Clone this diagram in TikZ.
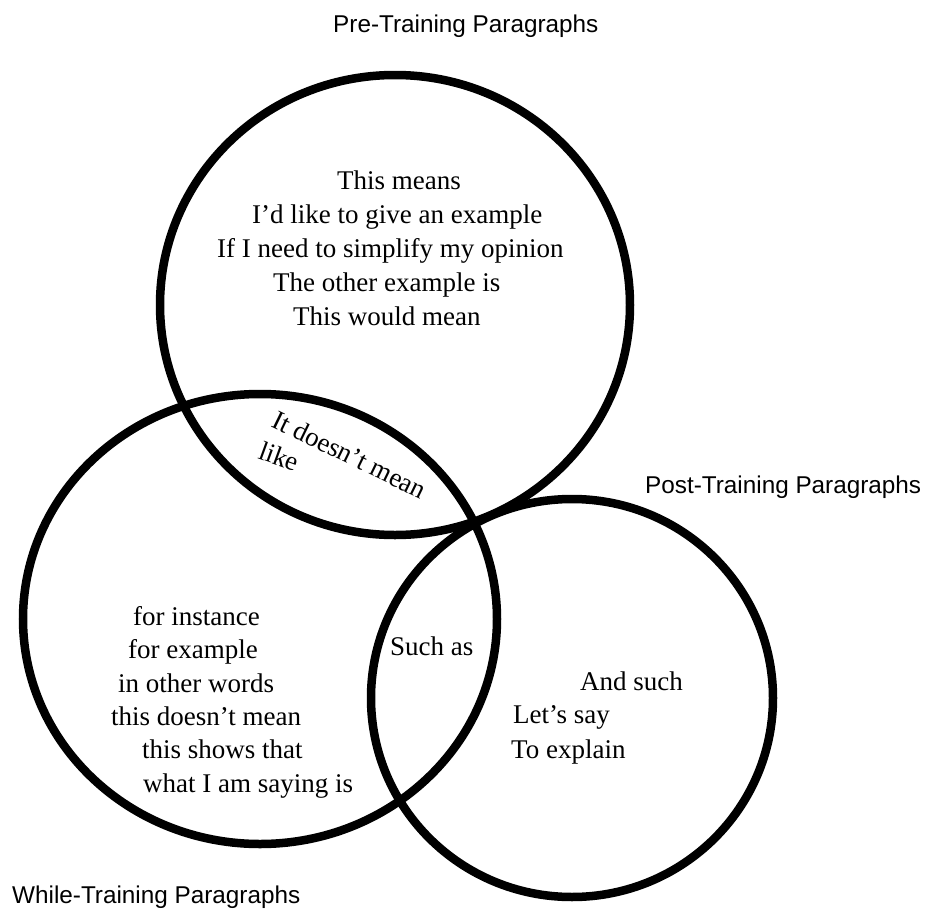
\documentclass[tikz,border=0pt]{standalone}
\usepackage{fontspec}
\setmainfont{Liberation Serif}
\newfontfamily\labelfont{Liberation Sans}
\begin{document}
\begin{tikzpicture}[x=1pt,y=-1pt,
  ring/.style={draw=black, line width=8.5pt},
  phrase/.style={font=\fontsize{27}{34}\selectfont, anchor=base west, inner sep=0pt},
  title/.style={font=\labelfont\fontsize{24.3}{29}\selectfont, anchor=base west, inner sep=0pt}]
\useasboundingbox (0,0) rectangle (927,910);

% the three sets
\draw[ring] (395,305) ellipse [x radius=235pt, y radius=230pt];
\draw[ring] (260,619) ellipse [x radius=237pt, y radius=225pt];
\draw[ring] (572,698) ellipse [x radius=201pt, y radius=199pt];

% set titles
\node[title] (tpre)   at (333,32)  {Pre-Training Paragraphs};
\node[title] (tpost)  at (645,493) {Post-Training Paragraphs};
\node[title] (twhile) at (12,903)  {While-Training Paragraphs};

% pre-training only
\node[phrase] (p1) at (337,189) {This means};
\node[phrase] (p2) at (252,223) {I’d like to give an example};
\node[phrase] (p3) at (217,257) {If I need to simplify my opinion};
\node[phrase] (p4) at (273,291) {The other example is};
\node[phrase] (p5) at (293,325) {This would mean};

% pre and while
\node[phrase, rotate=-26] (pw1) at (270,426) {It doesn’t mean};
\node[phrase, rotate=-20] (pw2) at (257,458) {like};

% while-training only
\node[phrase] (w1) at (133,625) {for instance};
\node[phrase] (w2) at (128,658) {for example};
\node[phrase] (w3) at (118,692) {in other words};
\node[phrase] (w4) at (111,725) {this doesn’t mean};
\node[phrase] (w5) at (142,758) {this shows that};
\node[phrase] (w6) at (143,792) {what I am saying is};

% while and post
\node[phrase] (wp1) at (390,655) {Such as};

% post-training only
\node[phrase] (q1) at (580,690) {And such};
\node[phrase] (q2) at (513,723) {Let’s say};
\node[phrase] (q3) at (511,758) {To explain};
\end{tikzpicture}
\end{document}
